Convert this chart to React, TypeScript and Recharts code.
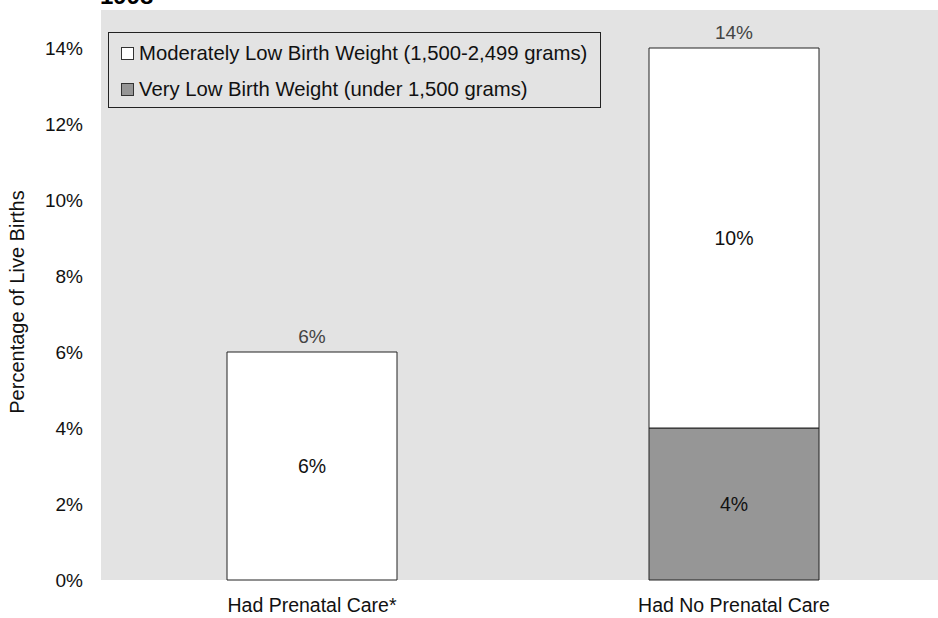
import { BarChart, Bar, XAxis, YAxis, CartesianGrid, LabelList } from "recharts";

const categories = ["Had Prenatal Care*", "Had No Prenatal Care"];
const veryLow = [0, 4];
const moderate = [6, 10];
const totals = [6, 14];
const yTicks = [0, 2, 4, 6, 8, 10, 12, 14];

const data = categories.map((name, i) => ({
  name,
  veryLow: veryLow[i],
  moderate: moderate[i],
  total: totals[i],
}));

const legendItems = [
  { label: "Moderately Low Birth Weight (1,500-2,499 grams)", color: "#ffffff" },
  { label: "Very Low Birth Weight (under 1,500 grams)", color: "#969696" },
];

const font = "'Liberation Sans', Arial, sans-serif";

function LegendBox() {
  return (
    <div
      style={{
        position: "absolute",
        left: 108,
        top: 32,
        border: "1px solid #222",
        background: "#e3e3e3",
        width: 493,
        height: 76,
        boxSizing: "border-box",
        padding: "2px 0 0 12px",
        fontFamily: font,
        fontSize: 20.3,
        color: "#111",
        whiteSpace: "nowrap",
      }}
    >
      {legendItems.map((it) => (
        <div key={it.label} style={{ display: "flex", alignItems: "center", height: 36 }}>
          <span
            style={{
              display: "inline-block",
              flex: "none",
              width: 11,
              height: 11,
              border: "1px solid #333",
              background: it.color,
              marginRight: 5,
            }}
          />
          {it.label}
        </div>
      ))}
    </div>
  );
}

export default function App() {
  return (
    <div style={{ position: "absolute", left: 0, top: 0, width: 938, height: 618, overflow: "hidden", background: "#fff" }}>
      <BarChart
        width={945}
        height={618}
        data={data}
        margin={{ top: 10, right: 0, left: 0, bottom: 0 }}
        barCategoryGap={0}
      >
        <text x={100} y={4} fontFamily={font} fontSize={24} fontWeight="bold" fill="#000">
          1998
        </text>
        <CartesianGrid fill="#e3e3e3" stroke="none" horizontal={false} vertical={false} />
        <XAxis
          dataKey="name"
          height={38}
          axisLine={false}
          tickLine={false}
          tickSize={0}
          tickMargin={18}
          tick={{ fontSize: 19.5, fill: "#111", fontFamily: font }}
        />
        <YAxis
          width={101}
          domain={[0, 15]}
          ticks={yTicks}
          axisLine={false}
          tickLine={false}
          tickSize={0}
          tickMargin={18}
          tickFormatter={(v) => `${v}%`}
          tick={{ fontSize: 19, fill: "#111", fontFamily: font }}
          label={{
            value: "Percentage of Live Births",
            angle: -90,
            position: "center",
            dx: -34,
            dy: 7,
            style: { fontSize: 20, fill: "#111", fontFamily: font },
          }}
        />
        <Bar dataKey="veryLow" stackId="a" barSize={170} fill="#969696" stroke="#222" strokeWidth={1} isAnimationActive={false}>
          <LabelList
            dataKey="veryLow"
            position="center"
            formatter={(v: any) => (v ? `${v}%` : "")}
            style={{ fontSize: 19.5, fill: "#111", fontFamily: font }}
          />
        </Bar>
        <Bar dataKey="moderate" stackId="a" barSize={170} fill="#ffffff" stroke="#222" strokeWidth={1} isAnimationActive={false}>
          <LabelList
            dataKey="moderate"
            position="center"
            formatter={(v: any) => `${v}%`}
            style={{ fontSize: 19.5, fill: "#111", fontFamily: font }}
          />
          <LabelList
            dataKey="total"
            position="top"
            offset={9}
            formatter={(v: any) => `${v}%`}
            style={{ fontSize: 19, fill: "#444", fontFamily: font }}
          />
        </Bar>
      </BarChart>
      <LegendBox />
    </div>
  );
}
